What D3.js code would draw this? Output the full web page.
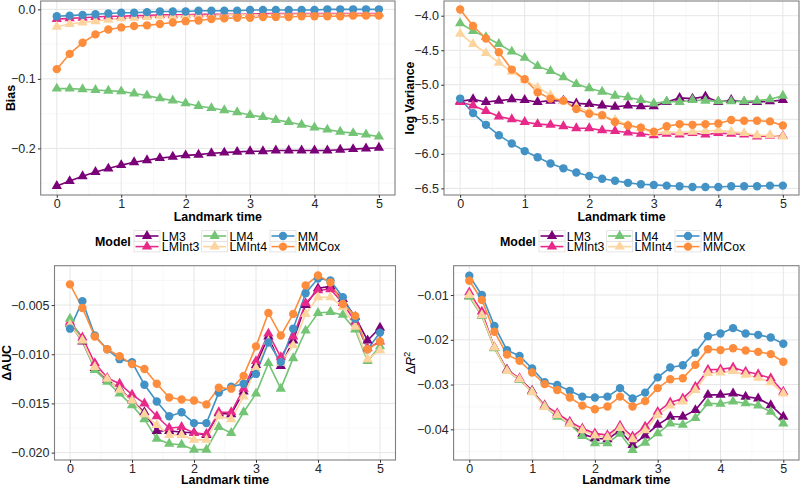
<!DOCTYPE html>
<html><head><meta charset="utf-8">
<script src="https://cdn.jsdelivr.net/npm/d3@7"></script>
<style>body{margin:0;background:#fff} svg{display:block;font-family:"Liberation Sans",Arial,Helvetica,sans-serif}</style>
</head><body><svg id="c" width="800" height="485"></svg>
<script>
// ---------------- data ----------------
const landmarkTimes = [0,0.2,0.4,0.6,0.8,1,1.2,1.4,1.6,1.8,2,2.2,2.4,2.6,2.8,3,3.2,3.4,3.6,3.8,4,4.2,4.4,4.6,4.8,5];
const models = ["LM3","LMInt3","LM4","LMInt4","MM","MMCox"];
const modelColors = ["#7A0177","#E7298A","#74C476","#FDD49E","#4292C6","#FD8D3C"];
const modelShapes = ["triangle","triangle","triangle","triangle","circle","circle"];
const xTickValues = [0,1,2,3,4,5];

// Bias
const biasLM3    = [-0.254,-0.247,-0.240,-0.234,-0.229,-0.224,-0.220,-0.217,-0.214,-0.212,-0.210,-0.209,-0.207,-0.206,-0.205,-0.204,-0.204,-0.203,-0.203,-0.203,-0.203,-0.203,-0.202,-0.201,-0.200,-0.199];
const biasLMInt3 = [-0.014,-0.013,-0.012,-0.011,-0.010,-0.010,-0.009,-0.009,-0.008,-0.008,-0.008,-0.007,-0.007,-0.007,-0.007,-0.007,-0.006,-0.006,-0.006,-0.006,-0.006,-0.006,-0.006,-0.006,-0.006,-0.006];
const biasLM4    = [-0.114,-0.114,-0.115,-0.116,-0.117,-0.118,-0.121,-0.124,-0.128,-0.131,-0.135,-0.139,-0.142,-0.145,-0.148,-0.152,-0.155,-0.159,-0.162,-0.166,-0.170,-0.173,-0.176,-0.178,-0.180,-0.183];
const biasLMInt4 = [-0.025,-0.021,-0.019,-0.017,-0.015,-0.013,-0.012,-0.011,-0.010,-0.010,-0.009,-0.009,-0.009,-0.008,-0.008,-0.008,-0.008,-0.007,-0.007,-0.007,-0.007,-0.007,-0.007,-0.007,-0.007,-0.007];
const biasMM     = [-0.010,-0.009,-0.008,-0.007,-0.006,-0.005,-0.005,-0.004,-0.003,-0.003,-0.003,-0.002,-0.002,-0.002,-0.002,-0.001,-0.001,-0.001,-0.001,-0.001,-0.001,0,0,0,0,0];
const biasMMCox  = [-0.086,-0.064,-0.048,-0.036,-0.029,-0.026,-0.024,-0.023,-0.021,-0.019,-0.017,-0.016,-0.014,-0.013,-0.012,-0.012,-0.011,-0.011,-0.011,-0.010,-0.010,-0.010,-0.010,-0.009,-0.009,-0.009];
const biasTicks  = [-0.2,-0.1,0];

// log Variance
const lvarLM3    = [-5.24,-5.21,-5.25,-5.23,-5.21,-5.22,-5.25,-5.23,-5.23,-5.27,-5.28,-5.30,-5.32,-5.30,-5.31,-5.31,-5.25,-5.19,-5.20,-5.17,-5.25,-5.22,-5.25,-5.25,-5.24,-5.22];
const lvarLMInt3 = [-5.25,-5.30,-5.38,-5.46,-5.50,-5.54,-5.57,-5.58,-5.60,-5.63,-5.63,-5.66,-5.67,-5.69,-5.71,-5.73,-5.71,-5.72,-5.70,-5.72,-5.70,-5.71,-5.72,-5.75,-5.74,-5.74];
const lvarLM4    = [-4.11,-4.22,-4.31,-4.41,-4.52,-4.61,-4.73,-4.80,-4.89,-4.99,-5.05,-5.10,-5.16,-5.18,-5.22,-5.27,-5.24,-5.25,-5.22,-5.23,-5.24,-5.24,-5.24,-5.23,-5.21,-5.16];
const lvarLMInt4 = [-4.26,-4.41,-4.54,-4.68,-4.81,-4.93,-5.04,-5.15,-5.24,-5.32,-5.39,-5.45,-5.51,-5.58,-5.63,-5.70,-5.68,-5.69,-5.68,-5.67,-5.66,-5.68,-5.70,-5.73,-5.73,-5.75];
const lvarMM     = [-5.20,-5.41,-5.58,-5.73,-5.85,-5.96,-6.05,-6.14,-6.21,-6.27,-6.32,-6.36,-6.39,-6.42,-6.44,-6.45,-6.46,-6.47,-6.48,-6.48,-6.48,-6.47,-6.47,-6.47,-6.46,-6.46];
const lvarMMCox  = [-3.91,-4.15,-4.33,-4.53,-4.78,-4.92,-5.11,-5.20,-5.23,-5.35,-5.42,-5.44,-5.54,-5.59,-5.62,-5.68,-5.60,-5.57,-5.58,-5.57,-5.56,-5.51,-5.52,-5.52,-5.53,-5.59];
const lvarTicks  = [-6.5,-6.0,-5.5,-5.0,-4.5,-4.0];

// Delta AUC
const aucLM3    = [-0.0069,-0.0087,-0.0114,-0.0126,-0.0135,-0.0147,-0.0159,-0.0178,-0.0178,-0.0179,-0.0180,-0.0182,-0.0160,-0.0161,-0.0138,-0.0111,-0.0082,-0.0112,-0.0086,-0.0050,-0.0033,-0.0031,-0.0044,-0.0062,-0.0086,-0.0073];
const aucLMInt3 = [-0.0067,-0.0083,-0.0109,-0.0124,-0.0130,-0.0141,-0.0150,-0.0163,-0.0175,-0.0174,-0.0180,-0.0181,-0.0159,-0.0159,-0.0135,-0.0107,-0.0079,-0.0103,-0.0082,-0.0048,-0.0035,-0.0034,-0.0048,-0.0067,-0.0094,-0.0087];
const aucLM4    = [-0.0064,-0.0086,-0.0116,-0.0128,-0.0140,-0.0152,-0.0166,-0.0186,-0.0191,-0.0192,-0.0197,-0.0197,-0.0174,-0.0180,-0.0159,-0.0140,-0.0109,-0.0135,-0.0104,-0.0076,-0.0058,-0.0057,-0.0060,-0.0075,-0.0107,-0.0092];
const aucLMInt4 = [-0.0070,-0.0086,-0.0113,-0.0125,-0.0136,-0.0147,-0.0161,-0.0172,-0.0182,-0.0182,-0.0187,-0.0187,-0.0163,-0.0166,-0.0143,-0.0114,-0.0087,-0.0109,-0.0091,-0.0059,-0.0042,-0.0042,-0.0052,-0.0072,-0.0105,-0.0096];
const aucMM     = [-0.0074,-0.0046,-0.0081,-0.0095,-0.0105,-0.0108,-0.0131,-0.0148,-0.0163,-0.0159,-0.0170,-0.0170,-0.0139,-0.0133,-0.0130,-0.0120,-0.0088,-0.0108,-0.0074,-0.0038,-0.0023,-0.0025,-0.0042,-0.0064,-0.0095,-0.0078];
const aucMMCox  = [-0.0029,-0.0053,-0.0082,-0.0095,-0.0102,-0.0110,-0.0115,-0.0130,-0.0144,-0.0146,-0.0147,-0.0151,-0.0134,-0.0135,-0.0122,-0.0092,-0.0058,-0.0081,-0.0059,-0.0030,-0.0020,-0.0027,-0.0049,-0.0061,-0.0095,-0.0087];
const aucTicks  = [-0.020,-0.015,-0.010,-0.005];

// Delta R^2
const r2LM3    = [-0.0102,-0.0145,-0.0217,-0.0267,-0.0288,-0.0314,-0.0349,-0.0368,-0.0387,-0.0410,-0.0420,-0.0422,-0.0403,-0.0435,-0.0414,-0.0390,-0.0372,-0.0372,-0.0357,-0.0323,-0.0323,-0.0320,-0.0327,-0.0331,-0.0346,-0.0372];
const r2LMInt3 = [-0.0094,-0.0137,-0.0217,-0.0267,-0.0286,-0.0314,-0.0346,-0.0364,-0.0383,-0.0398,-0.0409,-0.0413,-0.0392,-0.0416,-0.0394,-0.0361,-0.0340,-0.0331,-0.0305,-0.0267,-0.0266,-0.0262,-0.0271,-0.0277,-0.0286,-0.0316];
const r2LM4    = [-0.0104,-0.0147,-0.0219,-0.0269,-0.0290,-0.0316,-0.0349,-0.0372,-0.0388,-0.0415,-0.0431,-0.0431,-0.0410,-0.0446,-0.0430,-0.0409,-0.0387,-0.0390,-0.0375,-0.0342,-0.0343,-0.0338,-0.0342,-0.0347,-0.0361,-0.0387];
const r2LMInt4 = [-0.0100,-0.0145,-0.0217,-0.0270,-0.0288,-0.0317,-0.0350,-0.0368,-0.0388,-0.0402,-0.0414,-0.0418,-0.0397,-0.0422,-0.0402,-0.0368,-0.0347,-0.0338,-0.0312,-0.0274,-0.0273,-0.0270,-0.0278,-0.0285,-0.0295,-0.0320];
const r2MM     = [-0.0057,-0.0100,-0.0169,-0.0223,-0.0236,-0.0264,-0.0295,-0.0301,-0.0314,-0.0327,-0.0329,-0.0327,-0.0308,-0.0331,-0.0318,-0.0284,-0.0262,-0.0257,-0.0229,-0.0192,-0.0186,-0.0174,-0.0186,-0.0189,-0.0195,-0.0209];
const r2MMCox  = [-0.0068,-0.0111,-0.0182,-0.0233,-0.0247,-0.0273,-0.0299,-0.0312,-0.0329,-0.0347,-0.0355,-0.0349,-0.0327,-0.0349,-0.0337,-0.0308,-0.0288,-0.0286,-0.0256,-0.0221,-0.0223,-0.0219,-0.0224,-0.0227,-0.0232,-0.0249];
const r2Ticks  = [-0.04,-0.03,-0.02,-0.01];

// ---------------- layout ----------------
const panels = [
  {x0:40.7, x1:395, y0:1, y1:195, yDom:[-0.267,0.012], ticks:biasTicks, fmt:".1f",
   series:[biasLM3,biasLMInt3,biasLM4,biasLMInt4,biasMM,biasMMCox], title:"Bias", titleX:14.5, xTitleY:220.5, legend:{x:95, y:236}},
  {x0:444, x1:799, y0:1, y1:195, yDom:[-6.596,-3.787], ticks:lvarTicks, fmt:".1f",
   series:[lvarLM3,lvarLMInt3,lvarLM4,lvarLMInt4,lvarMM,lvarMMCox], title:"log Variance", titleX:414, xTitleY:220.5, legend:{x:500, y:236}},
  {x0:54.5, x1:395.5, y0:265.7, y1:460, yDom:[-0.02075,-0.0010], ticks:aucTicks, fmt:".3f",
   series:[aucLM3,aucLMInt3,aucLM4,aucLMInt4,aucMM,aucMMCox], title:"auc", titleX:11, xTitleY:483.5},
  {x0:453.6, x1:799, y0:265.7, y1:460, yDom:[-0.04685,-0.00345], ticks:r2Ticks, fmt:".2f",
   series:[r2LM3,r2LMInt3,r2LM4,r2LMInt4,r2MM,r2MMCox], title:"r2", titleX:415, xTitleY:483.5}
];

const svg = d3.select("#c");
const LW = 1.6, CR = 4.2, TRI = 46;
const triPath = d3.symbol(d3.symbolTriangle, TRI)();

function drawMarker(g, shape, color, x, y) {
  if (shape === "circle") g.append("circle").attr("cx", x).attr("cy", y).attr("r", CR).attr("fill", color);
  else g.append("path").attr("d", triPath).attr("transform", `translate(${x},${y})`).attr("fill", color);
}

panels.forEach(p => {
  const x = d3.scaleLinear().domain([-0.25, 5.25]).range([p.x0, p.x1]);
  const y = d3.scaleLinear().domain(p.yDom).range([p.y1, p.y0]);
  const g = svg.append("g");
  g.append("rect").attr("x", p.x0).attr("y", p.y0).attr("width", p.x1 - p.x0).attr("height", p.y1 - p.y0).attr("fill", "#fff");
  // minor grid
  const step = p.ticks[1] - p.ticks[0];
  const yMinor = [];
  for (let i = -1; i < p.ticks.length; i++) {
    const v = p.ticks[0] + (i + 0.5) * step;
    if (v > p.yDom[0] && v < p.yDom[1]) yMinor.push(v);
  }
  const xMinor = [0.5,1.5,2.5,3.5,4.5];
  g.selectAll(null).data(yMinor).join("line").attr("x1", p.x0).attr("x2", p.x1)
    .attr("y1", d => y(d)).attr("y2", d => y(d)).attr("stroke", "#f3f3f3").attr("stroke-width", 0.6);
  g.selectAll(null).data(xMinor).join("line").attr("y1", p.y0).attr("y2", p.y1)
    .attr("x1", d => x(d)).attr("x2", d => x(d)).attr("stroke", "#f3f3f3").attr("stroke-width", 0.6);
  // major grid
  g.selectAll(null).data(p.ticks).join("line").attr("x1", p.x0).attr("x2", p.x1)
    .attr("y1", d => y(d)).attr("y2", d => y(d)).attr("stroke", "#e6e6e6").attr("stroke-width", 1);
  g.selectAll(null).data(xTickValues).join("line").attr("y1", p.y0).attr("y2", p.y1)
    .attr("x1", d => x(d)).attr("x2", d => x(d)).attr("stroke", "#e6e6e6").attr("stroke-width", 1);

  const line = d3.line().x((d, i) => x(landmarkTimes[i])).y(d => y(d));
  p.series.forEach((s, k) => {
    g.append("path").attr("d", line(s)).attr("fill", "none").attr("stroke", modelColors[k]).attr("stroke-width", LW);
  });
  p.series.forEach((s, k) => {
    s.forEach((v, i) => drawMarker(g, modelShapes[k], modelColors[k], x(landmarkTimes[i]), y(v)));
  });
  g.append("rect").attr("x", p.x0).attr("y", p.y0).attr("width", p.x1 - p.x0).attr("height", p.y1 - p.y0)
    .attr("fill", "none").attr("stroke", "#7f7f7f").attr("stroke-width", 1.1);

  const fmt = d3.format(p.fmt);
  const ya = d3.axisLeft(y).tickValues(p.ticks).tickFormat(fmt).tickSize(2.8).tickPadding(2.2);
  const yg = g.append("g").attr("transform", `translate(${p.x0},0)`).call(ya);
  const xa = d3.axisBottom(x).tickValues(xTickValues).tickFormat(d3.format("d")).tickSize(2.8).tickPadding(1.4);
  const xg = g.append("g").attr("transform", `translate(0,${p.y1})`).call(xa);
  [yg, xg].forEach(a => {
    a.select(".domain").remove();
    a.selectAll(".tick line").attr("stroke", "#333");
    a.selectAll(".tick text").attr("fill", "#262626").attr("font-size", 12.5).attr("font-family", '"Liberation Sans",Arial,sans-serif');
  });

  g.append("text").attr("x", (p.x0 + p.x1) / 2).attr("y", p.xTitleY)
    .attr("text-anchor", "middle").attr("font-weight", "bold").attr("font-size", 12.4).attr("fill", "#000").text("Landmark time");

  const cy = (p.y0 + p.y1) / 2;
  const t = g.append("text").attr("transform", `translate(${p.titleX},${cy}) rotate(-90)`)
    .attr("text-anchor", "middle").attr("font-size", 12.4).attr("fill", "#000");
  if (p.title === "auc") {
    t.attr("font-weight", "bold").text("\u0394AUC");
  } else if (p.title === "r2") {
    t.append("tspan").text("\u0394");
    t.append("tspan").attr("font-style", "italic").text("R");
    t.append("tspan").attr("font-size", 9).attr("dy", -5).text("2");
  } else {
    t.attr("font-weight", "bold").text(p.title);
  }

  if (p.legend) {
    const L = p.legend;
    const lg = svg.append("g");
    lg.append("text").attr("x", L.x).attr("y", L.y + 9.6).attr("font-weight", "bold").attr("font-size", 12.4).text("Model");
    const colX = [L.x + 39, L.x + 106.7, L.x + 175];
    const rowY = [L.y, L.y + 10.6];
    models.forEach((m, k) => {
      const c = Math.floor(k / 2), r = k % 2;
      const kx = colX[c], ky = rowY[r];
      lg.append("rect").attr("x", kx).attr("y", ky - 5.3).attr("width", 26).attr("height", 10.6)
        .attr("fill", "#fff").attr("stroke", "#d9d9d9").attr("stroke-width", 0.7);
      lg.append("line").attr("x1", kx + 1.5).attr("x2", kx + 24.5).attr("y1", ky).attr("y2", ky)
        .attr("stroke", modelColors[k]).attr("stroke-width", LW);
      drawMarker(lg, modelShapes[k], modelColors[k], kx + 13, ky);
      lg.append("text").attr("x", kx + 27.8).attr("y", ky + 4.5).attr("font-size", 12.3).attr("fill", "#000").text(m);
    });
  }
});
</script></body></html>
